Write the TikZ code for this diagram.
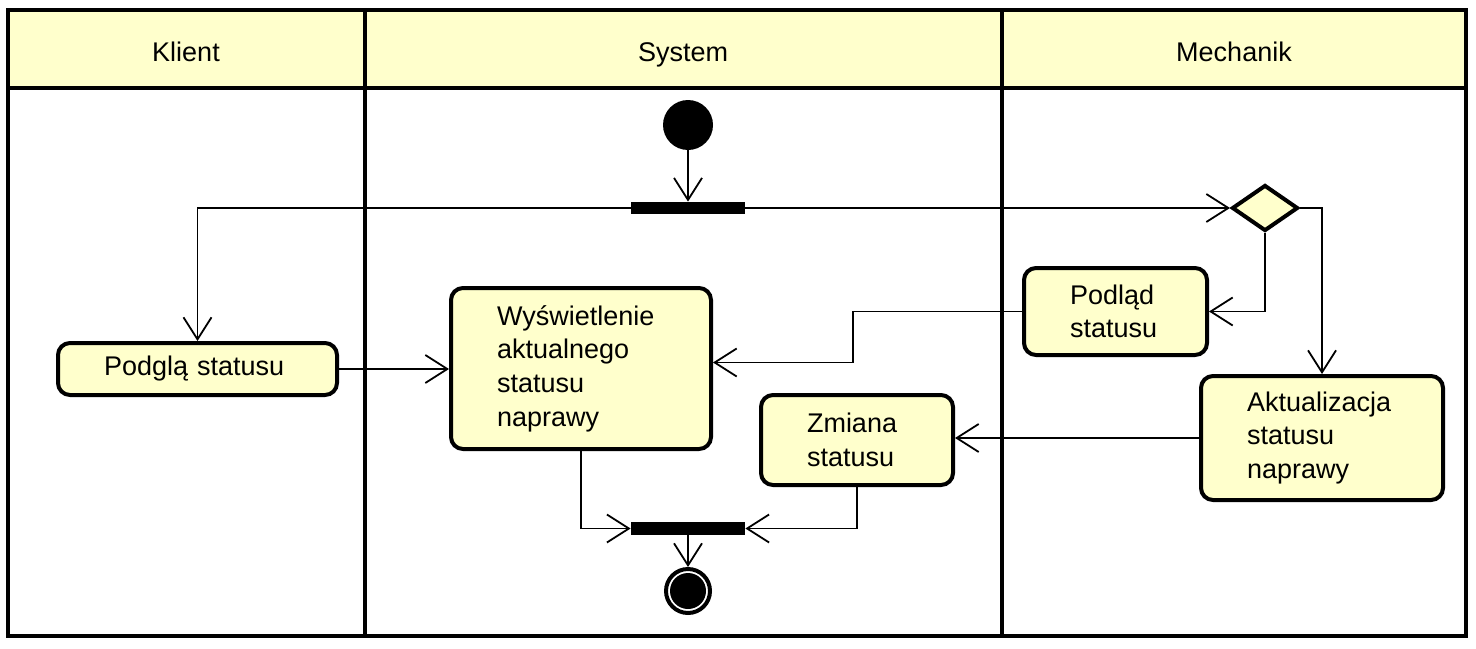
\documentclass[tikz,border=0pt]{standalone}
\usepackage{fontspec}
\setmainfont{Liberation Sans}
\usetikzlibrary{arrows.meta,shapes.geometric}
\definecolor{umlfill}{HTML}{FFFFCC}
\begin{document}
\begin{tikzpicture}[x=0.5pt,y=-0.5pt,
  font=\fontsize{13.5pt}{16.8pt}\selectfont,
  lane/.style={line width=2pt},
  header/.style={anchor=base},
  activity/.style={draw,line width=2pt,fill=umlfill,rounded corners=6pt,align=left,inner sep=0pt},
  bar/.style={fill=black,inner sep=0pt,minimum width=57pt},
  flow/.style={line width=0.9pt,-{Straight Barb[length=11pt,width=14pt]}}]
\useasboundingbox (0,0) rectangle (1476,648);
\fill[umlfill] (8,10) rectangle (1466,88);
\draw[lane] (8,10) rectangle (1466,636); \draw[lane] (8,88) -- (1466,88);
\draw[lane] (365,10) -- (365,636); \draw[lane] (1002,10) -- (1002,636);
\node[header] (klient) at (186,61) {Klient}; \node[header] (system) at (683,61) {System}; \node[header] (mechanik) at (1234,61) {Mechanik};
\node[circle,fill=black,inner sep=0pt,minimum size=25pt] (start) at (688,125) {};
\node[bar,minimum height=6pt] (fork) at (688,208) {};
\node[bar,minimum height=6.5pt] (join) at (688,528.5) {};
\node[circle,draw,line width=2pt,inner sep=0pt,minimum size=22pt] (end) at (688,591) {};
\node[circle,fill=black,inner sep=0pt,minimum size=18pt] (endin) at (688,591) {};
\node[diamond,draw,line width=2pt,fill=umlfill,inner sep=0pt,minimum width=33pt,minimum height=23pt] (decision) at (1265,208) {};
\node[activity,text width=93.5pt,minimum width=139.5pt,minimum height=26pt] (podglad) at (197.5,369) {Podglą statusu};
\node[activity,text width=84pt,minimum width=130pt,minimum height=80.5pt] (wyswietlenie) at (581,368.5) {Wyświetlenie\\aktualnego\\statusu\\naprawy};
\node[activity,text width=50pt,minimum width=96pt,minimum height=45pt] (zmiana) at (857,440) {Zmiana\\statusu};
\node[activity,text width=45.5pt,minimum width=91.5pt,minimum height=43.5pt] (podlad) at (1115.5,311.5) {Podląd\\statusu};
\node[activity,text width=75pt,minimum width=121pt,minimum height=62pt] (aktual) at (1322,438) {Aktualizacja\\statusu\\naprawy};
\draw[flow] (start) -- (fork);
\draw[flow] (fork.west) -| (podglad.north);
\draw[flow] (fork.east) -- (decision.west);
\draw[flow] (decision.south) |- (podlad.east);
\draw[flow] (decision.east) -| (aktual.north);
\draw[flow] (podlad.west) -- ++(-169,0) |- ([yshift=3pt]wyswietlenie.east);
\draw[flow] (podglad.east) -- (podglad.east -| wyswietlenie.west);
\draw[flow] (aktual.west) -- (aktual.west -| zmiana.east);
\draw[flow] (wyswietlenie.south) |- (join.west);
\draw[flow] (zmiana.south) |- (join.east);
\draw[flow] (join) -- (end);
\end{tikzpicture}
\end{document}
